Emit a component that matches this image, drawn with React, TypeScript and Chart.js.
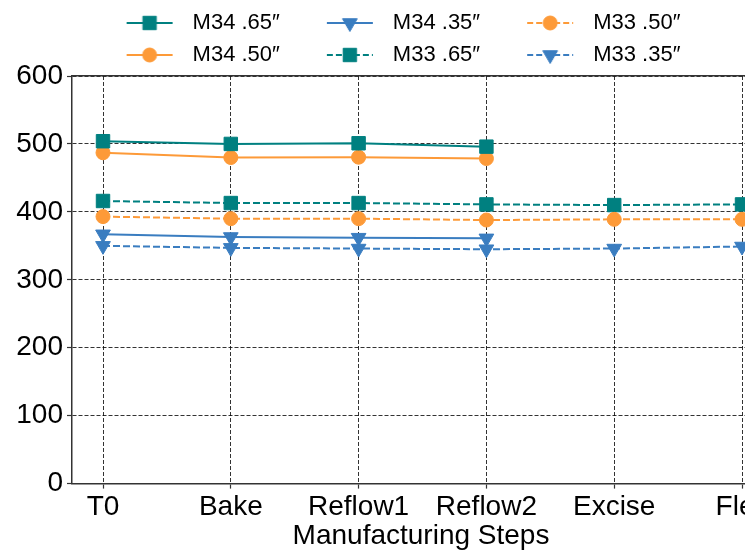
import React, { useEffect, useRef } from 'react';
import { Chart, registerables } from 'chart.js';
import { drawPoint } from 'chart.js/helpers';

Chart.register(...registerables);

// ---- data ----
const categories = ['T0', 'Bake', 'Reflow1', 'Reflow2', 'Excise', 'Flex'];
const yTickStep = 100;
const yMin = 0;
const yMax = 600;
const xTitle = 'Manufacturing Steps';

const m34_65 = [504, 500, 501, 496];
const m34_50 = [487, 480, 480.5, 478.5];
const m34_35 = [367, 363, 362, 361];
const m33_65 = [416, 413, 413, 411, 410, 411];
const m33_50 = [393, 390, 390, 388, 389, 389];
const m33_35 = [350, 347, 346, 345, 346, 349];

// ---- styles ----
const FONT = '"Liberation Sans", Arial, "DejaVu Sans", sans-serif';
const TEAL = '#008080';
const ORANGE = '#fd9a38';
const BLUE = '#3a7dc0';
const DASH = [7, 3];
const AXIS_FONT = 28;
const LEGEND_FONT = 22;

type S = { name: string; values: number[]; color: string; dashed: boolean; marker: string; radius: number; rotation: number };

// ordered row-major for a 3-column legend
const series: S[] = [
  { name: 'M34 .65\u2033', values: m34_65, color: TEAL, dashed: false, marker: 'rect', radius: 9.5, rotation: 0 },
  { name: 'M34 .35\u2033', values: m34_35, color: BLUE, dashed: false, marker: 'triangle', radius: 8.5, rotation: 180 },
  { name: 'M33 .50\u2033', values: m33_50, color: ORANGE, dashed: true, marker: 'circle', radius: 7, rotation: 0 },
  { name: 'M34 .50\u2033', values: m34_50, color: ORANGE, dashed: false, marker: 'circle', radius: 7, rotation: 0 },
  { name: 'M33 .65\u2033', values: m33_65, color: TEAL, dashed: true, marker: 'rect', radius: 9.5, rotation: 0 },
  { name: 'M33 .35\u2033', values: m33_35, color: BLUE, dashed: true, marker: 'triangle', radius: 8.5, rotation: 180 },
];

export default function App() {
  const ref = useRef<HTMLCanvasElement | null>(null);

  useEffect(() => {
    const canvas = ref.current;
    if (!canvas) return;

    const legendPad = 10;
    const mctx = document.createElement('canvas').getContext('2d')!;
    mctx.font = `${LEGEND_FONT}px ${FONT}`;
    const textW = Math.max(...series.map((s) => mctx.measureText(s.name).width));
    const colPitch = 200;
    const boxW = Math.round(colPitch - legendPad - LEGEND_FONT / 2 - textW);

    const legendImages = series.map((s) => {
      const c = document.createElement('canvas');
      c.width = boxW;
      c.height = 24;
      const g = c.getContext('2d')!;
      const lineEnd = boxW - (20 - LEGEND_FONT / 2);
      const lineStart = lineEnd - 46;
      g.strokeStyle = s.color;
      g.fillStyle = s.color;
      g.lineWidth = 2;
      g.setLineDash(s.dashed ? [6, 3] : []);
      g.beginPath();
      g.moveTo(lineStart, 12);
      g.lineTo(lineEnd, 12);
      g.stroke();
      g.setLineDash([]);
      g.lineWidth = 1;
      drawPoint(g, { pointStyle: s.marker, radius: s.radius, rotation: s.rotation, borderWidth: 1 } as any, (lineStart + lineEnd) / 2, 12);
      return c;
    });

    const chart = new Chart(canvas, {
      type: 'line',
      data: {
        datasets: series.map((s) => ({
          label: s.name,
          data: s.values.map((v, i) => ({ x: i, y: v })),
          borderColor: s.color,
          backgroundColor: s.color,
          borderWidth: 2,
          borderDash: s.dashed ? DASH : [],
          pointStyle: s.marker as any,
          pointRadius: s.radius,
          pointRotation: s.rotation,
          pointBackgroundColor: s.color,
          pointBorderColor: s.color,
          pointBorderWidth: 1,
          tension: 0,
          fill: false,
        })),
      },
      options: {
        responsive: false,
        animation: false,
        devicePixelRatio: 1,
        layout: { padding: { top: 2, right: 30, left: 0, bottom: 2 } },
        plugins: {
          tooltip: { enabled: false },
          legend: {
            position: 'top',
            labels: {
              usePointStyle: true,
              pointStyleWidth: boxW,
              padding: legendPad,
              color: '#000',
              font: { family: FONT, size: LEGEND_FONT },
              generateLabels: (ch: any) => {
                const items = Chart.defaults.plugins.legend.labels.generateLabels(ch);
                return items.map((it: any) => ({ ...it, pointStyle: legendImages[it.datasetIndex], rotation: 0, lineDash: [] }));
              },
            },
          },
        },
        scales: {
          x: {
            type: 'linear',
            min: -0.2426,
            max: 5.219,
            ticks: {
              stepSize: 1,
              includeBounds: false,
              autoSkip: false,
              maxRotation: 0,
              padding: 2,
              color: '#000',
              font: { family: FONT, size: AXIS_FONT, lineHeight: 1.2 },
              callback: (v: any) => (categories[v as number] ?? ''),
            },
            grid: {
              color: 'rgba(0,0,0,0.8)',
              lineWidth: 1,
              tickLength: 5,
              tickColor: '#333',
              tickWidth: 1.2,
            },
            border: { display: true, color: '#333', width: 1.5, dash: [4, 2] },
            title: {
              display: true,
              text: xTitle,
              color: '#000',
              font: { family: FONT, size: AXIS_FONT, lineHeight: 1.1 },
              padding: { top: -5, bottom: 2 },
            },
          },
          xTop: {
            type: 'linear',
            position: 'top',
            display: true,
            ticks: { display: false },
            grid: { display: true, drawOnChartArea: false, drawTicks: false },
            border: { display: true, color: '#333', width: 1.5 },
            afterFit: (s: any) => { s.height = 0; },
          },
          y: {
            type: 'linear',
            min: yMin,
            max: yMax,
            ticks: {
              stepSize: yTickStep,
              padding: 4,
              color: '#000',
              font: { family: FONT, size: AXIS_FONT },
            },
            grid: {
              color: 'rgba(0,0,0,0.8)',
              lineWidth: 1,
              tickLength: 5,
              tickColor: '#333',
              tickWidth: 1.2,
            },
            border: { display: true, color: '#333', width: 1.5, dash: [4, 2] },
            afterFit: (s: any) => { s.width = 72; },
          },
        },
      },
    } as any);

    return () => chart.destroy();
  }, []);

  return (
    <div style={{ position: 'fixed', left: 0, top: 0, width: 745, height: 556, overflow: 'hidden', background: '#fff' }}>
      <canvas ref={ref} width={800} height={556} style={{ width: 800, height: 556, display: 'block' }} />
    </div>
  );
}
